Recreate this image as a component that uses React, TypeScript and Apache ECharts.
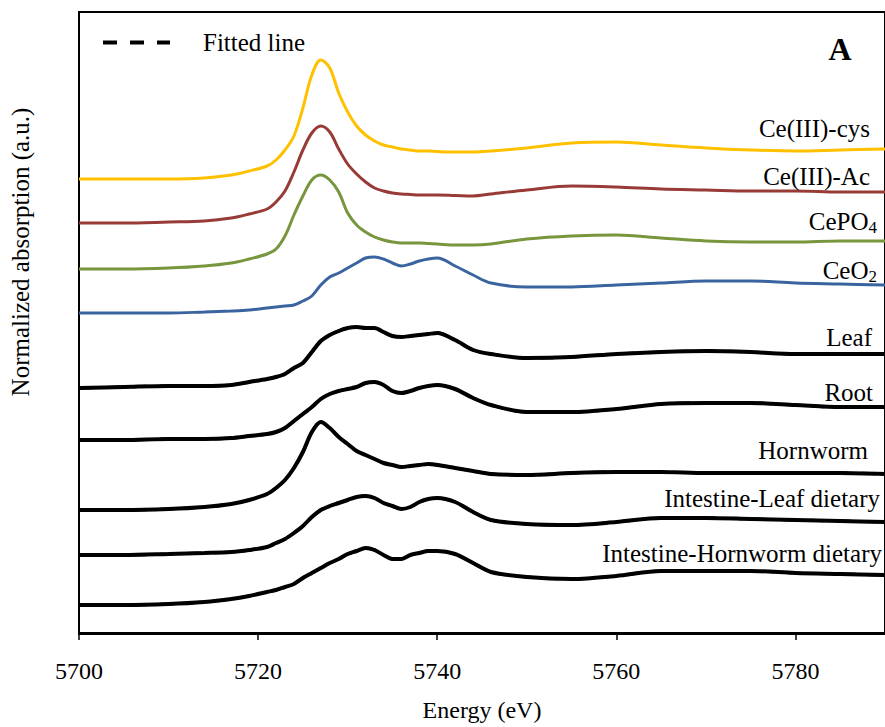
import React, { useEffect, useRef } from 'react';
import * as echarts from 'echarts';

const energy = [5700, 5705, 5710, 5714, 5717, 5719, 5721, 5722, 5723, 5724, 5725, 5726, 5727, 5728, 5729, 5730, 5731, 5732, 5733, 5734, 5735, 5736, 5737, 5738, 5739, 5740, 5742, 5744, 5746, 5750, 5755, 5760, 5765, 5770, 5775, 5780, 5785, 5790];

const ceIIICys = [4.54, 4.54, 4.54, 4.55, 4.58, 4.62, 4.67, 4.73, 4.83, 4.97, 5.25, 5.58, 5.73, 5.65, 5.40, 5.21, 5.07, 4.98, 4.92, 4.88, 4.86, 4.84, 4.83, 4.82, 4.82, 4.815, 4.81, 4.81, 4.82, 4.85, 4.90, 4.91, 4.88, 4.85, 4.83, 4.82, 4.83, 4.84];
const ceIIIAc = [4.10, 4.10, 4.11, 4.12, 4.15, 4.19, 4.24, 4.31, 4.42, 4.61, 4.83, 5.00, 5.07, 5.01, 4.84, 4.69, 4.59, 4.51, 4.45, 4.42, 4.40, 4.39, 4.385, 4.38, 4.38, 4.38, 4.375, 4.37, 4.39, 4.43, 4.47, 4.46, 4.44, 4.43, 4.42, 4.42, 4.41, 4.41];
const cePO4 = [3.64, 3.64, 3.65, 3.67, 3.70, 3.74, 3.79, 3.84, 3.97, 4.18, 4.37, 4.53, 4.58, 4.53, 4.41, 4.20, 4.08, 4.01, 3.96, 3.93, 3.91, 3.90, 3.90, 3.90, 3.895, 3.89, 3.88, 3.88, 3.89, 3.94, 3.97, 3.98, 3.95, 3.92, 3.91, 3.91, 3.92, 3.92];
const ceO2 = [3.20, 3.20, 3.20, 3.21, 3.22, 3.23, 3.25, 3.26, 3.27, 3.28, 3.32, 3.37, 3.48, 3.56, 3.60, 3.65, 3.70, 3.75, 3.76, 3.74, 3.70, 3.67, 3.69, 3.72, 3.74, 3.75, 3.67, 3.58, 3.50, 3.46, 3.46, 3.48, 3.50, 3.52, 3.52, 3.50, 3.49, 3.48];

const leaf = [2.45, 2.46, 2.47, 2.47, 2.48, 2.51, 2.54, 2.56, 2.59, 2.65, 2.70, 2.81, 2.92, 2.98, 3.02, 3.05, 3.06, 3.05, 3.05, 3.01, 2.97, 2.96, 2.97, 2.98, 2.99, 3.00, 2.93, 2.83, 2.79, 2.75, 2.76, 2.79, 2.81, 2.82, 2.81, 2.79, 2.79, 2.79];
const root = [1.93, 1.93, 1.94, 1.94, 1.95, 1.97, 1.99, 2.01, 2.05, 2.12, 2.19, 2.26, 2.34, 2.39, 2.42, 2.44, 2.46, 2.50, 2.51, 2.48, 2.42, 2.40, 2.42, 2.45, 2.47, 2.48, 2.44, 2.35, 2.28, 2.21, 2.21, 2.24, 2.29, 2.30, 2.30, 2.28, 2.26, 2.26];
const hornworm = [1.23, 1.23, 1.24, 1.26, 1.29, 1.33, 1.39, 1.45, 1.53, 1.65, 1.81, 2.01, 2.11, 2.05, 1.96, 1.89, 1.82, 1.78, 1.74, 1.70, 1.68, 1.66, 1.67, 1.68, 1.69, 1.68, 1.65, 1.62, 1.59, 1.58, 1.60, 1.61, 1.61, 1.60, 1.60, 1.60, 1.60, 1.59];
const intestineLeaf = [0.78, 0.78, 0.79, 0.80, 0.81, 0.83, 0.86, 0.90, 0.94, 1.00, 1.07, 1.16, 1.23, 1.27, 1.30, 1.33, 1.36, 1.37, 1.35, 1.30, 1.27, 1.24, 1.26, 1.31, 1.34, 1.35, 1.31, 1.21, 1.13, 1.09, 1.08, 1.11, 1.15, 1.15, 1.14, 1.13, 1.12, 1.11];
const intestineHornworm = [0.28, 0.28, 0.29, 0.31, 0.34, 0.37, 0.41, 0.43, 0.46, 0.49, 0.55, 0.60, 0.65, 0.70, 0.74, 0.79, 0.82, 0.85, 0.83, 0.78, 0.74, 0.74, 0.78, 0.80, 0.82, 0.82, 0.79, 0.70, 0.61, 0.56, 0.54, 0.57, 0.62, 0.62, 0.62, 0.60, 0.59, 0.58];

const referenceNames = ['Ce(III)-cys', 'Ce(III)-Ac', 'CePO4', 'CeO2'];
const referenceColors = ['#FFC000', '#983A36', '#77963D', '#3A64A0'];
const referenceData = [ceIIICys, ceIIIAc, cePO4, ceO2];

const sampleNames = ['Leaf', 'Root', 'Hornworm', 'Intestine-Leaf dietary', 'Intestine-Hornworm dietary'];
const sampleData = [leaf, root, hornworm, intestineLeaf, intestineHornworm];

const xMin = 5700;
const xMax = 5790;
const xInterval = 20;

const FONT = 'Liberation Serif, Times New Roman, serif';

const pairs = (ys: number[]) => energy.map((e, i) => [e, ys[i]]);

export default function App() {
  const ref = useRef<HTMLDivElement>(null);
  useEffect(() => {
    if (!ref.current) return;
    const chart = echarts.init(ref.current, undefined, { renderer: 'svg' });

    const series: any[] = [];
    referenceData.forEach((d, i) => {
      series.push({
        name: referenceNames[i],
        type: 'line',
        data: pairs(d),
        smooth: 0.35,
        symbol: 'none',
        showSymbol: false,
        lineStyle: { color: referenceColors[i], width: 3 },
        itemStyle: { color: referenceColors[i] },
        z: 3,
      });
    });
    sampleData.forEach((d, i) => {
      series.push({
        name: sampleNames[i],
        type: 'line',
        data: pairs(d),
        smooth: 0.3,
        symbol: 'none',
        showSymbol: false,
        lineStyle: { color: '#000', width: 4 },
        itemStyle: { color: '#000' },
        z: 3,
      });
      series.push({
        name: 'Fitted line',
        type: 'line',
        data: pairs(d),
        smooth: 0.35,
        symbol: 'none',
        showSymbol: false,
        lineStyle: { color: '#000', width: 3, type: [14, 13] },
        itemStyle: { color: '#000' },
        z: 4,
      });
    });

    const labelStyle = (text: string, x: number, y: number, rich?: any) => ({
      type: 'text',
      x,
      y,
      style: {
        text,
        textAlign: 'right',
        textVerticalAlign: 'middle',
        fontFamily: FONT,
        fontSize: 25,
        fill: '#000',
        rich,
      },
      z: 10,
    });

    const subRich = {
      n: { fontFamily: FONT, fontSize: 25, fill: '#000' },
      s: { fontFamily: FONT, fontSize: 17, fill: '#000', padding: [12, 0, 0, 0] },
    };

    chart.setOption({
      animation: false,
      backgroundColor: '#fff',
      grid: {
        left: 79,
        right: -3,
        top: 12,
        bottom: 93,
        show: true,
        borderColor: '#000',
        borderWidth: 2,
        containLabel: false,
      },
      legend: {
        data: ['Fitted line'],
        left: 101,
        top: 30,
        padding: 0,
        itemWidth: 67,
        itemHeight: 14,
        selectedMode: false,
        itemStyle: { color: 'rgba(0,0,0,0)', borderWidth: 0, opacity: 0 },
        lineStyle: { width: 4, color: '#000', type: [14, 13] },
        textStyle: { fontFamily: FONT, fontSize: 25, color: '#000', padding: [0, 0, 0, 28] },
      },
      xAxis: {
        type: 'value',
        min: xMin,
        max: xMax,
        interval: xInterval,
        name: 'Energy (eV)',
        nameLocation: 'middle',
        nameGap: 64,
        nameTextStyle: { fontFamily: FONT, fontSize: 24, color: '#000' },
        axisLine: { show: true, lineStyle: { color: '#000', width: 2 } },
        axisTick: { show: true, inside: false, length: 7, lineStyle: { color: '#000', width: 1.5 } },
        axisLabel: {
          fontFamily: FONT,
          fontSize: 24,
          color: '#000',
          margin: 25,
          showMaxLabel: false,
          formatter: (v: number) => String(v),
        },
        splitLine: { show: false },
      },
      yAxis: {
        type: 'value',
        min: -0.01,
        max: 6.21,
        axisLine: { show: true, lineStyle: { color: '#000', width: 2 } },
        axisTick: { show: false },
        axisLabel: { show: false },
        splitLine: { show: false },
      },
      graphic: [
        {
          type: 'text',
          x: 20,
          y: 252,
          rotation: Math.PI / 2,
          style: {
            text: 'Normalized absorption (a.u.)',
            textAlign: 'center',
            textVerticalAlign: 'middle',
            fontFamily: FONT,
            fontSize: 25,
            fill: '#000',
          },
        },
        {
          type: 'text',
          x: 840,
          y: 49,
          style: {
            text: 'A',
            textAlign: 'center',
            textVerticalAlign: 'middle',
            fontFamily: FONT,
            fontSize: 32,
            fontWeight: 'bold',
            fill: '#000',
          },
        },
        labelStyle(referenceNames[0], 870, 128),
        labelStyle(referenceNames[1], 870, 176),
        labelStyle('{n|CePO}{s|4}', 877, 221, subRich),
        labelStyle('{n|CeO}{s|2}', 877, 270, subRich),
        labelStyle(sampleNames[0], 872, 337),
        labelStyle(sampleNames[1], 873, 392),
        labelStyle(sampleNames[2], 868, 450),
        labelStyle(sampleNames[3], 880, 498),
        labelStyle(sampleNames[4], 882, 553),
      ],
      series,
    });
    return () => chart.dispose();
  }, []);
  return <div ref={ref} style={{ position: 'absolute', left: 0, top: 0, width: 885, height: 727 }} />;
}
